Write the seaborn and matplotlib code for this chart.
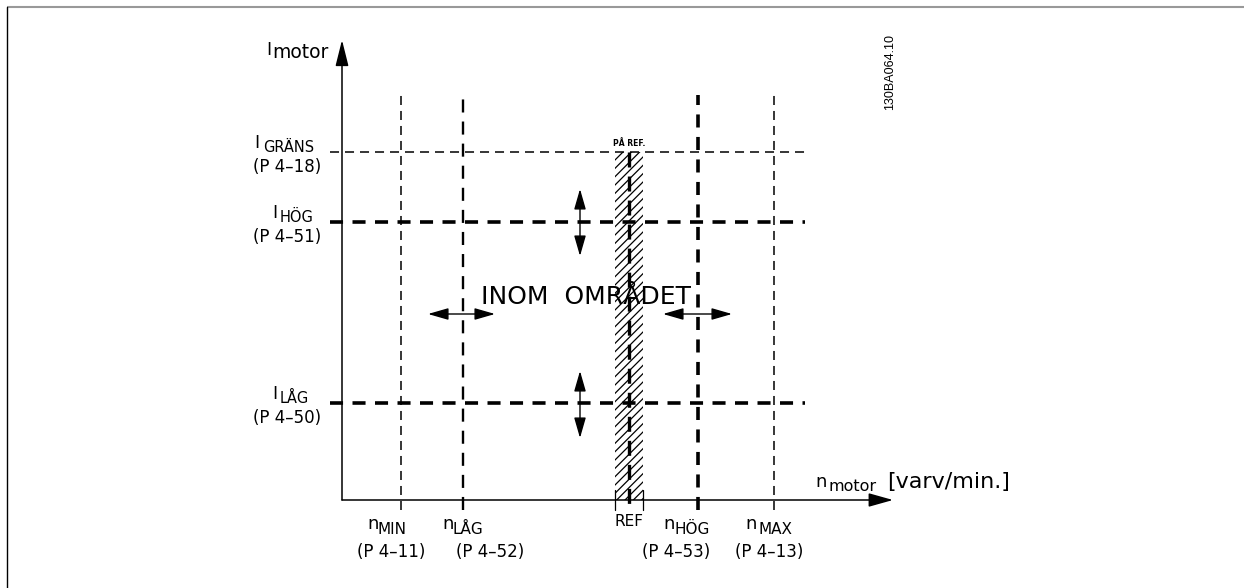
import matplotlib
matplotlib.use("Agg")
import matplotlib.pyplot as plt
import seaborn as sns
from matplotlib.patches import FancyArrowPatch, Rectangle

# --- Data (schematic units, origin where the two axes cross) ---
current_subs = ["GRÄNS", "HÖG", "LÅG"]
current_params = ["(P 4–18)", "(P 4–51)", "(P 4–50)"]
current_levels = [348, 278, 97]

speed_subs = ["MIN", "LÅG", "HÖG", "MAX"]
speed_params = ["(P 4–11)", "(P 4–52)", "(P 4–53)", "(P 4–13)"]
speed_levels = [59, 121, 356, 432]

ref_speed = 287
ref_halfwidth = 14

# --- Styles: (linewidth, dash on, dash off) in points ---
thin = (1.1, 6.5, 4.3)
medium = (1.7, 9.4, 6.5)
thick = (2.6, 9.4, 6.8)
current_styles = [thin, thick, thick]
speed_styles = [thin, medium, thick, thin]

sns.set_theme(style="white")
plt.rcParams["font.family"] = ["DejaVu Sans"]
plt.rcParams["text.color"] = "black"
plt.rcParams["lines.scale_dashes"] = False
plt.rcParams["hatch.linewidth"] = 0.9

fig = plt.figure(figsize=(12.44, 5.88), dpi=100)
ax = fig.add_axes([0, 0, 1, 1])
ax.set_xlim(-342, 902)
ax.set_ylim(-88, 500)
ax.axis("off")


def dashed(xs, ys, style, z=2):
    lw, on, off = style
    sns.lineplot(x=xs, y=ys, ax=ax, color="black", lw=lw, linestyle=(0, (on, off)),
                 estimator=None, sort=False, legend=False, zorder=z)


def arrow(p0, p1, style, lw=1.0):
    ax.add_patch(FancyArrowPatch(p0, p1, arrowstyle=style, mutation_scale=10,
                                 color="black", lw=lw, shrinkA=0, shrinkB=0, zorder=4))


# frame lines of the drawing sheet
ax.plot([-335, 902], [493, 493], color="#999999", lw=1.5, solid_capstyle="butt")
ax.plot([-335, -335], [493, -88], color="black", lw=1.0)

# hatched "on reference" band
ax.add_patch(Rectangle((ref_speed - ref_halfwidth, 0), 2 * ref_halfwidth, current_levels[0],
                       facecolor="white", edgecolor="black", lw=0, hatch="////", zorder=1))
for dx in (-ref_halfwidth, ref_halfwidth):
    ax.plot([ref_speed + dx] * 2, [10, -10], color="black", lw=0.9, zorder=2)
dashed([ref_speed, ref_speed], [current_levels[0], -10], (2.4, 10.8, 6.5), z=3)
ax.text(ref_speed, 357, "PÅ REF.", fontsize=5.5, fontweight="bold", ha="center", va="center")

# level lines
for lvl, st in zip(current_levels, current_styles):
    dashed([-12, 463], [lvl, lvl], st)
for lvl, st in zip(speed_levels, speed_styles):
    dashed([lvl, lvl], [-10, 405], st)

# axes with arrow heads
arrow((0, 0), (0, 460), "-|>,head_length=1.6,head_width=0.4", lw=1.1)
arrow((0, 0), (551, 0), "-|>,head_length=1.5,head_width=0.42", lw=1.1)

# double arrows
both = "<|-|>,head_length=1.25,head_width=0.36"
arrow((238, 244), (238, 311), both)
arrow((238, 62), (238, 129), both)
arrow((86, 186), (153, 186), both)
arrow((321, 186), (390, 186), both)

ax.text(244, 203, "INOM  OMRÅDET", fontsize=18, ha="center", va="center", zorder=5)

# current labels (left)
i_right = [-83, -65, -65]
sub_left = [-79, -62, -62]
for lvl, sub, par, xr, xs in zip(current_levels, current_subs, current_params, i_right, sub_left):
    ax.text(xr, lvl + 4, "I", fontsize=12.5, ha="right", va="baseline")
    ax.text(xs, lvl, sub, fontsize=10.5, ha="left", va="baseline")
    ax.text(-55, lvl - 15, par, fontsize=12, ha="center", va="center")

# speed labels (bottom)
n_left = [25, 100, 321, 403]
nsub_left = [36, 111, 333, 416]
par_center = [49, 148, 334, 427]
for sub, par, xn, xs, xp in zip(speed_subs, speed_params, n_left, nsub_left, par_center):
    ax.text(xn, -29, "n", fontsize=13, ha="left", va="baseline")
    ax.text(xs, -34, sub, fontsize=11, ha="left", va="baseline")
    ax.text(xp, -52, par, fontsize=12, ha="center", va="center")
ax.text(ref_speed, -22, "REF", fontsize=11, ha="center", va="center")

# axis titles
ax.text(-71, 445, "I", fontsize=12.5, ha="right", va="baseline")
ax.text(-70, 442, "motor", fontsize=13.5, ha="left", va="baseline")
ax.text(473, 13, "n", fontsize=13, ha="left", va="baseline")
ax.text(486, 9, "motor", fontsize=11.5, ha="left", va="baseline")
ax.text(545, 12, "[varv/min.]", fontsize=16, ha="left", va="baseline")

# drawing number
ax.text(548, 428, "130BA064.10", fontsize=9, rotation=90, ha="center", va="center",
        family=["Liberation Sans", "DejaVu Sans"])

fig.savefig("out.png", dpi=100)
